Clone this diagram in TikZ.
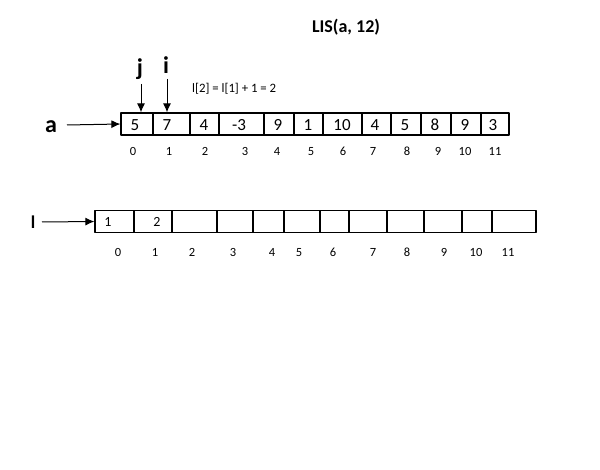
\documentclass[tikz,border=0pt]{standalone}
\usepackage{fontspec}
\setmainfont{Carlito}
\usetikzlibrary{arrows.meta,positioning}
\tikzset{
  every picture/.style={line join=round, >=Latex},
  cell/.style={draw, line width=1.2pt, minimum height=22pt, inner sep=0pt},
  val/.style={font=\fontsize{17}{17}\selectfont, inner sep=0pt, anchor=base},
  idx/.style={font=\fontsize{12.5}{12.5}\selectfont, inner sep=0pt, anchor=base},
  big/.style={font=\fontsize{24}{24}\selectfont\bfseries, inner sep=0pt},
  ptr/.style={->, line width=1pt, >={Latex[length=9pt,width=8pt]}},
}
\begin{document}
\begin{tikzpicture}[x=1pt,y=-1pt]
\useasboundingbox (0,0) rectangle (600,470);
\node[font=\fontsize{18}{18}\selectfont\bfseries] (title) at (346,27) {LIS(a, 12)};
% array a
\foreach \l/\r/\v/\t/\n [count=\k from 0] in {121/153/5/135/133,153/190/7/167/169,190/219/4/204/205,
  219/264/-3/239/245,264/294/9/278/277,294/323/1/308/311,323/362/10/342/343,362/391/4/375/373,
  391/421/5/405/407,421/451/8/435/438,451/481/9/465/465,481/509/3/493/495}
{
  \node[cell, minimum width=\r-\l] (a\k) at ({(\l+\r)/2},124) {};
  \node[val] (av\k) at (\t,130.5) {\v};
  \node[idx] (ai\k) at (\n,156) {\k};
}
\node[big] (alab) at (51,127) {a};
\coordinate (astart) at (67,125);
\draw[ptr] (astart) -- (a0.west);
\node[big] (jl) at (140,69) {j};
\node[big] (il) at (166,65) {i};
\coordinate (jtop) at (141,84);
\coordinate (itop) at (167,79);
\draw[ptr] (jtop) -- (jtop |- a0.north);
\draw[ptr] (itop) -- (itop |- a1.north);
\node[font=\fontsize{12.8}{12.8}\selectfont, anchor=west, inner sep=0pt] (upd) at (192,89) {l[2] = l[1] + 1 = 2};
% array l
\foreach \l/\r/\n [count=\k from 0] in {95/134/118,134/172/155,172/217/192,217/253/233,253/284/272,
  284/320/299,320/349/333,349/387/373,387/424/407,424/462/444,462/492/476,492/536/508}
{
  \node[cell, minimum width=\r-\l] (l\k) at ({(\l+\r)/2},221.5) {};
  \node[idx] (li\k) at (\n,257) {\k};
}
\node[idx, font=\fontsize{14}{14}\selectfont] (lv0) at (108,226.5) {1};
\node[idx, font=\fontsize{14}{14}\selectfont] (lv1) at (157,226.5) {2};
\node[big, font=\fontsize{18}{18}\selectfont\bfseries] (llab) at (33,222) {l};
\coordinate (lstart) at (42,222);
\draw[ptr] (lstart) -- (l0.west);
\end{tikzpicture}
\end{document}
